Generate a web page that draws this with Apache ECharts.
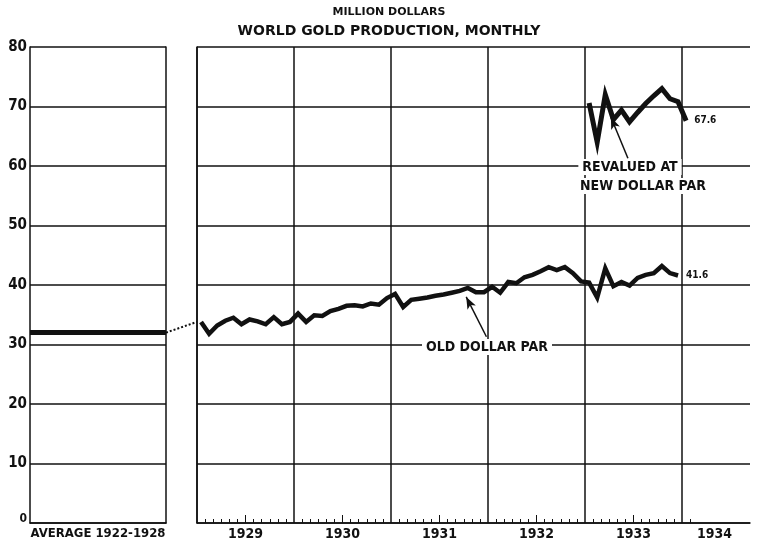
<!DOCTYPE html>
<html>
<head>
<meta charset="utf-8">
<script src="https://cdn.jsdelivr.net/npm/echarts@6/dist/echarts.min.js"></script>
<style>
  html, body { margin: 0; padding: 0; background: #fff; }
  #gold-chart { width: 768px; height: 546px; }
</style>
</head>
<body>
<div id="gold-chart"></div>
<script>
// values, million dollars per month
var average1922to1928 = 32.0;
var old1929 = [33.8, 31.8, 33.2, 34.0, 34.5, 33.4, 34.2, 33.9, 33.4, 34.6, 33.4, 33.8];
var old1930 = [35.2, 33.8, 34.9, 34.8, 35.6, 36.0, 36.5, 36.6, 36.4, 36.9, 36.7, 37.8];
var old1931 = [38.5, 36.3, 37.5, 37.7, 37.9, 38.2, 38.4, 38.7, 39.0, 39.5, 38.8, 38.8];
var old1932 = [39.7, 38.7, 40.5, 40.3, 41.3, 41.7, 42.3, 43.0, 42.5, 43.0, 42.0, 40.6];
var old1933 = [40.4, 37.9, 42.8, 39.8, 40.5, 39.9, 41.2, 41.7, 42.0, 43.2, 42.0, 41.6];
// jan 1933 .. jan 1934
var revalued = [70.6, 64.0, 72.0, 67.8, 69.4, 67.4, 69.0, 70.5, 71.8, 73.0, 71.3, 70.8, 67.6];
var revaluedStart = 48; // months after jan 1929

var years = ['1929', '1930', '1931', '1932', '1933', '1934'];
var yearLabelAt = [6, 18, 30, 42, 54, 64];

var oldPar = [].concat(old1929, old1930, old1931, old1932, old1933);

var FONT = 'DejaVu Sans Condensed';
var INK = '#111';
var monthsShown = 68.4;

var oldData = oldPar.map(function (v, i) { return [i + 0.5, v]; });
var revData = revalued.map(function (v, i) { return [revaluedStart + i + 0.5, v]; });

var monthTicks = [];
for (var m = 1; m <= 61; m++) {
  if (m % 12 !== 0) monthTicks.push(m);
}
var midYearTicks = [6, 18, 30, 42, 54];

var chart = echarts.init(document.getElementById('gold-chart'));

var gridLine = { show: true, lineStyle: { color: INK, width: 1.5 } };

chart.setOption({
  animation: false,
  backgroundColor: '#fff',
  grid: [
    { left: 30, right: 602, top: 47, bottom: 23 },
    { left: 197, right: 18, top: 47, bottom: 23 },
    { left: 166, right: 571, top: 47, bottom: 23 }
  ],
  xAxis: [
    {
      gridIndex: 0, type: 'value', min: 0, max: 1,
      axisLine: gridLine, axisTick: { show: false }, splitLine: { show: false },
      axisLabel: {
        customValues: [0.5], showMinLabel: false, showMaxLabel: false,
        formatter: function () { return 'AVERAGE 1922-1928'; },
        color: INK, fontFamily: FONT, fontWeight: 'bold', fontSize: 13, margin: 4
      }
    },
    {
      // year lines and year labels
      gridIndex: 1, type: 'value', min: 0, max: monthsShown, interval: 12,
      axisLine: gridLine,
      splitLine: { show: true, showMaxLine: false, lineStyle: { color: INK, width: 1.5 } },
      axisTick: { show: false },
      axisLabel: {
        customValues: yearLabelAt,
        formatter: function (v) { return years[yearLabelAt.indexOf(v)] || ''; },
        color: INK, fontFamily: FONT, fontWeight: 'bold', fontSize: 14, margin: 4
      }
    },
    {
      // month ticks
      gridIndex: 1, type: 'value', min: 0, max: monthsShown, position: 'bottom',
      axisLine: { show: false }, splitLine: { show: false }, axisLabel: { show: false },
      axisTick: { show: true, inside: true, length: 4, customValues: monthTicks, lineStyle: { color: INK, width: 1 } }
    },
    {
      // mid-year ticks
      gridIndex: 1, type: 'value', min: 0, max: monthsShown, position: 'bottom',
      axisLine: { show: false }, splitLine: { show: false }, axisLabel: { show: false },
      axisTick: { show: true, inside: true, length: 8, customValues: midYearTicks, lineStyle: { color: INK, width: 1 } }
    },
    { gridIndex: 2, type: 'value', min: 0, max: 1, show: false }
  ],
  yAxis: [
    {
      gridIndex: 0, type: 'value', min: 0, max: 80, interval: 10,
      axisLine: gridLine, axisTick: { show: false }, splitLine: gridLine,
      axisLabel: {
        margin: 3, color: INK, fontFamily: FONT, fontWeight: 'bold', fontSize: 15,
        formatter: function (v) { return v === 0 ? '{s|0}' : String(v); },
        rich: { s: { fontFamily: FONT, fontWeight: 'bold', fontSize: 12, color: INK, padding: [0, 0, 8, 0] } }
      }
    },
    {
      gridIndex: 0, type: 'value', min: 0, max: 80, position: 'right',
      axisLine: gridLine, axisTick: { show: false }, axisLabel: { show: false }, splitLine: { show: false }
    },
    {
      gridIndex: 1, type: 'value', min: 0, max: 80, interval: 10,
      axisLine: gridLine, axisTick: { show: false }, axisLabel: { show: false }, splitLine: gridLine
    },
    { gridIndex: 2, type: 'value', min: 0, max: 80, show: false }
  ],
  series: [
    {
      // average 1922-1928
      type: 'line', xAxisIndex: 0, yAxisIndex: 0,
      data: [[0, average1922to1928], [1, average1922to1928]],
      showSymbol: false, lineStyle: { color: INK, width: 5 }
    },
    {
      // dotted join into the monthly line
      type: 'line', xAxisIndex: 4, yAxisIndex: 3,
      data: [[0, average1922to1928], [1, oldPar[0]]],
      showSymbol: false, lineStyle: { color: INK, width: 2, type: [2, 2] }
    },
    {
      type: 'line', xAxisIndex: 1, yAxisIndex: 2,
      data: oldData, showSymbol: false,
      lineStyle: { color: INK, width: 4.5, join: 'miter' },
      endLabel: {
        show: true, distance: 8, color: INK, fontFamily: FONT, fontWeight: 'bold', fontSize: 10,
        formatter: function (p) { return p.value[1].toFixed(1); }
      },
      markLine: {
        silent: true, symbolSize: [7, 12], label: { show: false },
        lineStyle: { color: INK, width: 1.5, type: 'solid' },
        data: [[{ coord: [35.8, 31.3], symbol: 'none' }, { coord: [33.3, 38.0], symbol: 'arrow' }]]
      }
    },
    {
      type: 'line', xAxisIndex: 1, yAxisIndex: 2,
      data: revData, showSymbol: false,
      lineStyle: { color: INK, width: 5, join: 'miter' },
      endLabel: {
        show: true, distance: 8, color: INK, fontFamily: FONT, fontWeight: 'bold', fontSize: 10,
        formatter: function (p) { return p.value[1].toFixed(1); }
      },
      markLine: {
        silent: true, symbolSize: [7, 12], label: { show: false },
        lineStyle: { color: INK, width: 1.5, type: 'solid' },
        data: [[{ coord: [53.3, 61.3], symbol: 'none' }, { coord: [51.2, 68.2], symbol: 'arrow' }]]
      }
    }
  ],
  graphic: [
    {
      type: 'text', x: 389, y: 12,
      style: { text: 'MILLION DOLLARS', fill: INK, font: 'bold 11px "DejaVu Sans"', textAlign: 'center', textVerticalAlign: 'middle' }
    },
    {
      type: 'text', x: 389, y: 31,
      style: { text: 'WORLD GOLD PRODUCTION, MONTHLY', fill: INK, font: 'bold 14px "DejaVu Sans"', textAlign: 'center', textVerticalAlign: 'middle' }
    },
    {
      type: 'text', x: 487, y: 347, z: 10,
      style: { text: 'OLD DOLLAR PAR', fill: INK, font: 'bold 14px "DejaVu Sans Condensed"', textAlign: 'center', textVerticalAlign: 'middle', backgroundColor: '#fff', padding: [1, 4] }
    },
    {
      type: 'text', x: 630, y: 167, z: 10,
      style: { text: 'REVALUED AT', fill: INK, font: 'bold 14px "DejaVu Sans Condensed"', textAlign: 'center', textVerticalAlign: 'middle', backgroundColor: '#fff', padding: [1, 4] }
    },
    {
      type: 'text', x: 643, y: 186, z: 10,
      style: { text: 'NEW DOLLAR PAR', fill: INK, font: 'bold 14px "DejaVu Sans Condensed"', textAlign: 'center', textVerticalAlign: 'middle', backgroundColor: '#fff', padding: [1, 4] }
    }
  ]
});
</script>
</body>
</html>
